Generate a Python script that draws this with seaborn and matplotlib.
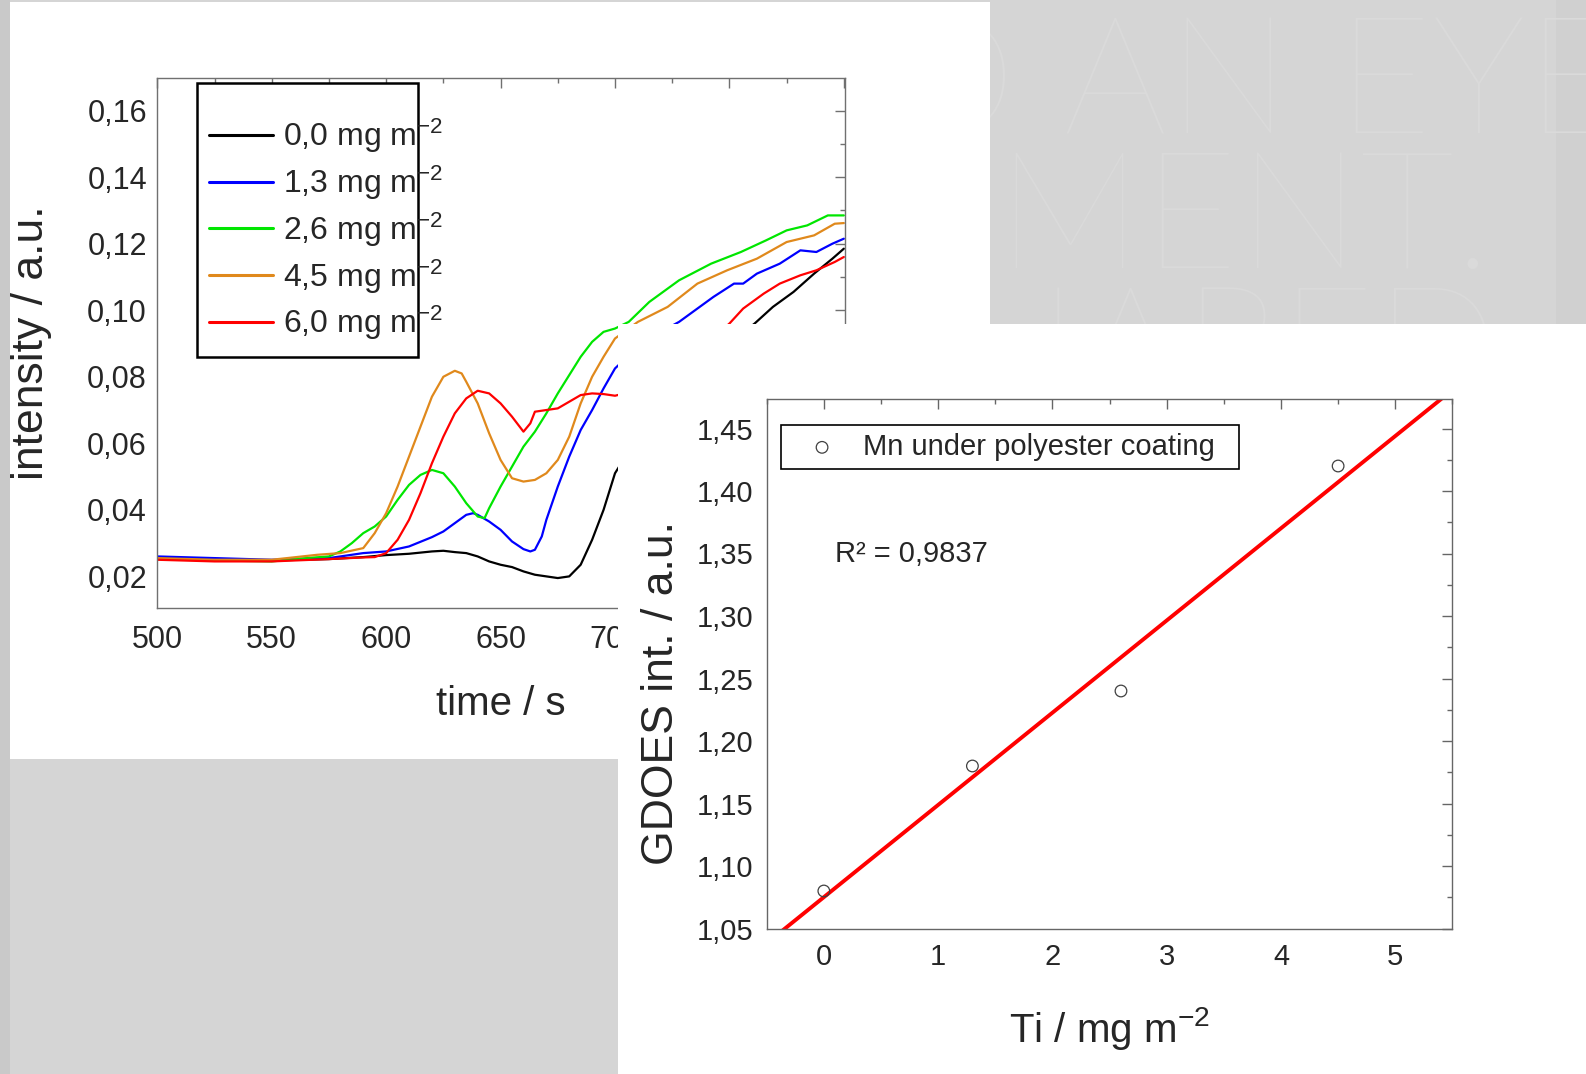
import numpy as np
import pandas as pd
import matplotlib
matplotlib.use("Agg")
import matplotlib.pyplot as plt
import seaborn as sns
from matplotlib.patches import Rectangle
from matplotlib.ticker import MultipleLocator

# ---------------- data: left chart (GDOES depth profiles) ----------------
series_labels = ['0,0 mg m$^{-2}$', '1,3 mg m$^{-2}$', '2,6 mg m$^{-2}$',
                 '4,5 mg m$^{-2}$', '6,0 mg m$^{-2}$']
series_colors = ['#000000', '#0000ff', '#00e600', '#e0891c', '#ff0000']

t_00 = [500, 525, 550, 575, 590, 600, 610, 620, 625, 630, 635, 640, 645, 650, 655, 660, 665,
        670, 675, 680, 685, 690, 695, 700, 710, 720, 730, 740, 750, 761, 769, 778, 787, 795, 800]
i_00 = [0.0255, 0.0252, 0.0248, 0.0252, 0.0258, 0.0264, 0.0268, 0.0275, 0.0277, 0.0273, 0.0270,
        0.0260, 0.0245, 0.0235, 0.0228, 0.0215, 0.0205, 0.0200, 0.0195, 0.0200, 0.0235, 0.0310,
        0.0400, 0.0510, 0.0620, 0.0710, 0.0780, 0.0840, 0.0900, 0.0960, 0.1010, 0.1055, 0.1110,
        0.1155, 0.1185]

t_13 = [500, 525, 550, 575, 590, 600, 610, 620, 625, 630, 635, 638, 640, 645, 650, 655, 660, 663,
        665, 668, 670, 675, 680, 685, 690, 695, 700, 710, 720, 728, 734, 743, 752, 756, 762, 772,
        781, 788, 795, 800]
i_13 = [0.0260, 0.0255, 0.0250, 0.0255, 0.0270, 0.0275, 0.0290, 0.0318, 0.0335, 0.0360, 0.0385,
        0.0390, 0.0385, 0.0365, 0.0340, 0.0305, 0.0282, 0.0275, 0.0280, 0.0320, 0.0370, 0.0470,
        0.0560, 0.0640, 0.0700, 0.0765, 0.0825, 0.0890, 0.0935, 0.0965, 0.0995, 0.1040, 0.1080,
        0.1080, 0.1110, 0.1140, 0.1180, 0.1175, 0.1200, 0.1215]

t_26 = [500, 525, 550, 565, 575, 580, 585, 590, 595, 600, 605, 610, 615, 620, 625, 630, 635, 640,
        643, 645, 650, 655, 660, 665, 670, 675, 680, 685, 690, 695, 700, 706, 715, 728, 742, 755,
        766, 775, 784, 793, 800]
i_26 = [0.0252, 0.0248, 0.0245, 0.0255, 0.0260, 0.0275, 0.0300, 0.0330, 0.0350, 0.0380, 0.0430,
        0.0475, 0.0505, 0.0520, 0.0510, 0.0470, 0.0420, 0.0380, 0.0375, 0.0405, 0.0470, 0.0530,
        0.0590, 0.0635, 0.0690, 0.0750, 0.0805, 0.0860, 0.0905, 0.0935, 0.0945, 0.0965, 0.1025,
        0.1090, 0.1140, 0.1175, 0.1210, 0.1240, 0.1255, 0.1285, 0.1285]

t_45 = [500, 525, 550, 570, 580, 590, 595, 600, 605, 610, 615, 620, 625, 630, 633, 635, 640, 645,
        650, 655, 660, 665, 670, 675, 680, 685, 690, 695, 700, 710, 723, 736, 749, 762, 775, 787,
        796, 800]
i_45 = [0.0255, 0.0250, 0.0250, 0.0265, 0.0270, 0.0285, 0.0330, 0.0390, 0.0470, 0.0560, 0.0650,
        0.0740, 0.0800, 0.0818, 0.0810, 0.0785, 0.0720, 0.0630, 0.0550, 0.0495, 0.0485, 0.0490,
        0.0510, 0.0550, 0.0620, 0.0720, 0.0800, 0.0860, 0.0915, 0.0965, 0.1010, 0.1080, 0.1120,
        0.1155, 0.1205, 0.1225, 0.1260, 0.1262]

t_60 = [500, 525, 550, 575, 590, 595, 600, 605, 610, 615, 620, 625, 630, 635, 640, 645, 650, 655,
        660, 663, 665, 670, 675, 680, 685, 690, 695, 700, 710, 720, 730, 740, 750, 756, 765, 772,
        781, 788, 796, 800]
i_60 = [0.0250, 0.0245, 0.0245, 0.0252, 0.0257, 0.0258, 0.0270, 0.0310, 0.0370, 0.0450, 0.0540,
        0.0620, 0.0690, 0.0735, 0.0758, 0.0750, 0.0720, 0.0680, 0.0635, 0.0660, 0.0695, 0.0700,
        0.0705, 0.0725, 0.0745, 0.0750, 0.0748, 0.0743, 0.0760, 0.0800, 0.0850, 0.0900, 0.0960,
        0.1005, 0.1050, 0.1080, 0.1105, 0.1120, 0.1145, 0.1160]

x1_ticks = [500, 550, 600, 650, 700, 750, 800]
x1_ticklabels = ['500', '550', '600', '650', '700', '750', '800']
y1_ticks = [0.02, 0.04, 0.06, 0.08, 0.10, 0.12, 0.14, 0.16]
y1_ticklabels = ['0,02', '0,04', '0,06', '0,08', '0,10', '0,12', '0,14', '0,16']

# ---------------- data: right chart (calibration) ----------------
ti_loading = [0.0, 1.3, 2.6, 4.5]
gdoes_int = [1.08, 1.18, 1.24, 1.42]
x2_ticks = [0, 1, 2, 3, 4, 5]
x2_ticklabels = ['0', '1', '2', '3', '4', '5']
y2_ticks = [1.05, 1.10, 1.15, 1.20, 1.25, 1.30, 1.35, 1.40, 1.45]
y2_ticklabels = ['1,05', '1,10', '1,15', '1,20', '1,25', '1,30', '1,35', '1,40', '1,45']
r2_text = 'R² = 0,9837'
legend2_label = 'Mn under polyester coating'

# ---------------- style ----------------
sns.set_style("white")
plt.rcParams['font.family'] = ['Liberation Sans', 'DejaVu Sans']
plt.rcParams['mathtext.fontset'] = 'custom'
plt.rcParams['mathtext.rm'] = 'Liberation Sans'
plt.rcParams['mathtext.it'] = 'Liberation Sans'
plt.rcParams['mathtext.default'] = 'regular'

W, H = 1586, 1074
fig = plt.figure(figsize=(W / 100, H / 100), dpi=100)
fig.patch.set_facecolor('#d5d5d5')


def fx(px):
    return px / W


def fy(py):
    return 1 - py / H


# background strips and faint watermark
fig.add_artist(Rectangle((0, 0), fx(10), 1, transform=fig.transFigure,
                         fc='#c9c9c9', ec='none', zorder=0.05))
fig.add_artist(Rectangle((fx(1556), fy(324)), fx(30), 324 / H, transform=fig.transFigure,
                         fc='#d0d0d0', ec='none', zorder=0.05))
wm = dict(color='#dadada', fontsize=118, family=['Lato', 'Liberation Sans'],
          fontweight='light', va='baseline', ha='left', zorder=0.1)
fig.text(fx(892), fy(133), 'D AN EYE', **wm)
fig.text(fx(905), fy(268), 'PMENT.', **wm)
fig.text(fx(870), fy(403), 'SHARED', **wm)

# white panels
fig.add_artist(Rectangle((fx(10), fy(758.6)), 980 / W, (758.6 - 2) / H,
                         transform=fig.transFigure, fc='white', ec='none', zorder=0.2))
fig.add_artist(Rectangle((fx(618), 0), (W - 618) / W, (H - 323.7) / H,
                         transform=fig.transFigure, fc='white', ec='none', zorder=2))

# ---------------- left chart ----------------
ax1 = fig.add_axes([fx(157.3), fy(608), (845 - 157.3) / W, (608 - 78) / H])
ax1.set_zorder(1)
ax1.set_facecolor('white')

frames = []
for lab, t, v in zip(series_labels, [t_00, t_13, t_26, t_45, t_60],
                     [i_00, i_13, i_26, i_45, i_60]):
    frames.append(pd.DataFrame({'time': t, 'intensity': v, 'label': lab}))
df1 = pd.concat(frames, ignore_index=True)

sns.lineplot(data=df1, x='time', y='intensity', hue='label', hue_order=series_labels,
             palette=series_colors, estimator=None, sort=False, lw=1.6, ax=ax1)

ax1.set_xlim(500, 800.5)
ax1.set_ylim(0.0105, 0.1698)
ax1.set_xticks(x1_ticks, x1_ticklabels)
ax1.set_yticks(y1_ticks, y1_ticklabels)
ax1.xaxis.set_minor_locator(MultipleLocator(25))
ax1.yaxis.set_minor_locator(MultipleLocator(0.01))
ax1.tick_params(which='both', direction='in', top=True, right=True,
                color='#707070', width=1.0)
ax1.tick_params(which='major', length=7)
ax1.tick_params(which='minor', length=3.5)
ax1.tick_params(axis='x', labelsize=22, pad=12)
ax1.tick_params(axis='y', labelsize=22, pad=7.5)
for lbl in ax1.get_xticklabels()[5:]:
    lbl.set_visible(False)          # these sit under the second panel
for s in ax1.spines.values():
    s.set_color('#707070')
    s.set_linewidth(1.0)

ax1.set_xlabel('time / s', fontsize=29)
ax1.set_ylabel('intensity / a.u.', fontsize=32)
ax1.xaxis.set_label_coords(0.5, -0.146)
ax1.yaxis.set_label_coords(-0.1524, 0.5)

# legend frame drawn as its own box; entries placed inside
ax1.add_patch(Rectangle((0.058, 0.4736), 0.3206, 0.5172, transform=ax1.transAxes,
                        fc='white', ec='black', lw=1.8, zorder=4, clip_on=False))
h1, l1 = ax1.get_legend_handles_labels()
leg1 = ax1.legend(h1, l1, loc='upper left', bbox_to_anchor=(0.0548, 0.9545),
                  borderaxespad=0, fontsize=23, handlelength=2.0, handletextpad=0.3,
                  borderpad=0.45, labelspacing=0.27, frameon=False)
leg1.set_zorder(5)
for ln in leg1.get_lines():
    ln.set_linewidth(2.2)

# ---------------- right chart ----------------
ax2 = fig.add_axes([fx(766.7), fy(928.5), (1452.4 - 766.7) / W, (928.5 - 398.5) / H])
ax2.set_zorder(3)
ax2.set_facecolor('white')
ax2.set_xlim(-0.5, 5.5)
ax2.set_ylim(1.05, 1.474)

sns.regplot(x=ti_loading, y=gdoes_int, ax=ax2, scatter=False, ci=None, truncate=False,
            color='#ff0000', line_kws=dict(lw=2.8, zorder=2))
sns.scatterplot(x=ti_loading, y=gdoes_int, ax=ax2, marker='o', s=70,
                facecolor='none', edgecolor='#404040', linewidth=0.9,
                label=legend2_label, zorder=3)

ax2.set_xlim(-0.5, 5.5)
ax2.set_ylim(1.05, 1.474)
ax2.set_xticks(x2_ticks, x2_ticklabels)
ax2.set_yticks(y2_ticks, y2_ticklabels)
ax2.xaxis.set_minor_locator(MultipleLocator(0.5))
ax2.yaxis.set_minor_locator(MultipleLocator(0.025))
ax2.tick_params(which='both', direction='in', top=True, right=True,
                color='#666666', width=1.0)
ax2.tick_params(which='major', length=7)
ax2.tick_params(which='minor', length=3.5)
ax2.tick_params(axis='x', labelsize=21, pad=10.5)
ax2.tick_params(axis='y', labelsize=21, pad=9.5)
for s in ax2.spines.values():
    s.set_color('#666666')
    s.set_linewidth(1.0)

ax2.set_xlabel('Ti / mg m$^{-2}$', fontsize=29)
ax2.set_ylabel('GDOES int. / a.u.', fontsize=32)
ax2.xaxis.set_label_coords(0.5, -0.145)
ax2.yaxis.set_label_coords(-0.1235, 0.4447)

ax2.text(0.1, 1.35, r2_text, fontsize=21, ha='left', va='center')

ax2.add_patch(Rectangle((0.0206, 0.8664), 0.6682, 0.084, transform=ax2.transAxes,
                        fc='white', ec='black', lw=1.2, zorder=4, clip_on=False))
leg2 = ax2.legend(loc='center left', bbox_to_anchor=(0.0318, 0.9085), borderaxespad=0,
                  fontsize=21, handlelength=2.0, handletextpad=0.4,
                  borderpad=0.15, frameon=False)
leg2.set_zorder(5)

fig.savefig('out.png', dpi=100, facecolor=fig.get_facecolor())
